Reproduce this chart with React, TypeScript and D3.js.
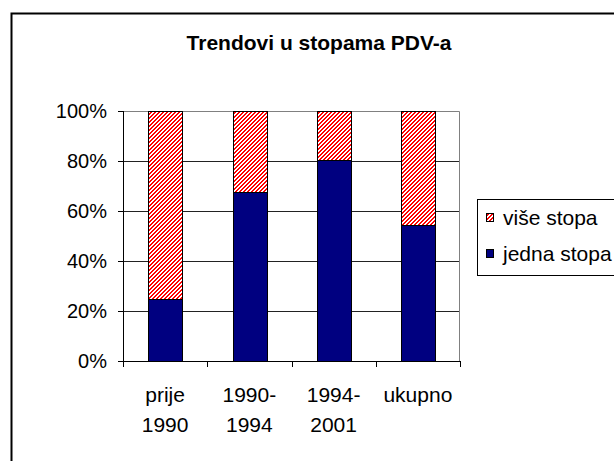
import * as d3 from "d3";
import * as React from "react";

// Trendovi u stopama PDV-a: 100% stacked columns
const categories = ["prije 1990", "1990-1994", "1994-2001", "ukupno"];
const labelLines = [["prije", "1990"], ["1990-", "1994"], ["1994-", "2001"], ["ukupno"]];
const jednaStopa = [25, 67.5, 80.5, 54.5];
const viseStopa = jednaStopa.map((v) => 100 - v);
const yTicks = [0, 20, 40, 60, 80, 100];
const seriesNames = ["više stopa", "jedna stopa"];

const font = "Arial, 'Liberation Sans', sans-serif";

export default function App() {
  const width = 614;
  const height = 461;
  const plot = { left: 123, right: 460, top: 111, bottom: 361 };

  const x = d3
    .scaleBand<string>()
    .domain(categories)
    .range([plot.left, plot.right])
    .paddingInner(0.6)
    .paddingOuter(0.3);

  const y = d3.scaleLinear().domain([0, 100]).range([plot.bottom, plot.top]);

  const rows = categories.map((c, i) => ({ cat: c, jedna: jednaStopa[i], vise: viseStopa[i] }));
  const stack = d3.stack<any>().keys(["jedna", "vise"])(rows);
  const fills: Record<string, string> = { jedna: "#000080", vise: "url(#hatch)" };

  const step = x.step();
  const bounds = categories.map((c) => (x(c) as number) - step * 0.3).concat([plot.right]);

  return (
    <svg
      width={width}
      height={height}
      style={{ position: "absolute", left: 0, top: 0, background: "#fff" }}
      fontFamily={font}
    >
      <defs>
        {/* pixel "/" stripes, like Excel's wide upward diagonal */}
        <pattern id="hatch" patternUnits="userSpaceOnUse" width="4" height="4">
          <rect width="4" height="4" fill="#fff" />
          <path
            d="M2,0h2v1h-2z M1,1h2v1h-2z M0,2h2v1h-2z M0,3h1v1h-1z M3,3h1v1h-1z"
            fill="#ff0000"
            shapeRendering="crispEdges"
          />
        </pattern>
      </defs>

      {/* outer chart border */}
      <rect x={11.5} y={13.5} width={700} height={500} fill="#fff" stroke="#000" strokeWidth={2} />

      <text x={319} y={50} textAnchor="middle" fontWeight="bold" fontSize={21}>
        Trendovi u stopama PDV-a
      </text>

      {/* gridlines */}
      {yTicks.slice(1, -1).map((t) => (
        <line key={t} x1={plot.left} x2={plot.right} y1={y(t) + 0.5} y2={y(t) + 0.5} stroke="#222" />
      ))}
      {/* plot area border top/right */}
      <path
        d={`M${plot.left},${plot.top + 0.5}H${plot.right - 0.5}V${plot.bottom}`}
        fill="none"
        stroke="#808080"
      />

      {/* bars */}
      {stack.map((s) =>
        s.map((d, i) => (
          <rect
            key={s.key + i}
            x={Math.round(x(categories[i]) as number) + 0.5}
            y={Math.round(y(d[1])) + 0.5}
            width={Math.round(x.bandwidth())}
            height={Math.round(y(d[0])) - Math.round(y(d[1]))}
            fill={fills[s.key]}
            stroke="#000"
            strokeWidth={1}
          />
        ))
      )}

      {/* y axis */}
      <line x1={plot.left + 0.5} x2={plot.left + 0.5} y1={plot.top} y2={plot.bottom} stroke="#000" />
      {yTicks.map((t) => (
        <g key={t}>
          <line x1={plot.left - 5} x2={plot.left} y1={y(t) + 0.5} y2={y(t) + 0.5} stroke="#000" />
          <text x={107} y={y(t)} dy="0.36em" textAnchor="end" fontSize={20}>
            {t}%
          </text>
        </g>
      ))}

      {/* x axis */}
      <line x1={plot.left} x2={plot.right} y1={plot.bottom + 0.5} y2={plot.bottom + 0.5} stroke="#000" />
      {bounds.map((b, i) => (
        <line key={i} x1={Math.round(b) + 0.5} x2={Math.round(b) + 0.5} y1={plot.bottom} y2={plot.bottom + 6} stroke="#000" />
      ))}
      {categories.map((c, i) => (
        <text key={c} x={(x(c) as number) + x.bandwidth() / 2} y={402} textAnchor="middle" fontSize={21}>
          {labelLines[i].map((l, j) => (
            <tspan key={j} x={(x(c) as number) + x.bandwidth() / 2} dy={j === 0 ? 0 : 30}>
              {l}
            </tspan>
          ))}
        </text>
      ))}

      {/* legend */}
      <rect x={477.5} y={199.5} width={150} height={76} fill="#fff" stroke="#000" />
      {seriesNames.map((n, i) => (
        <g key={n} transform={`translate(486,${217 + i * 36})`}>
          <rect
            x={0.5}
            y={-3.5}
            width={7}
            height={8}
            fill={i === 0 ? "url(#hatch)" : "#000080"}
            stroke="#000"
          />
          <text x={17} y={0} dy="0.36em" fontSize={21}>
            {n}
          </text>
        </g>
      ))}
    </svg>
  );
}
